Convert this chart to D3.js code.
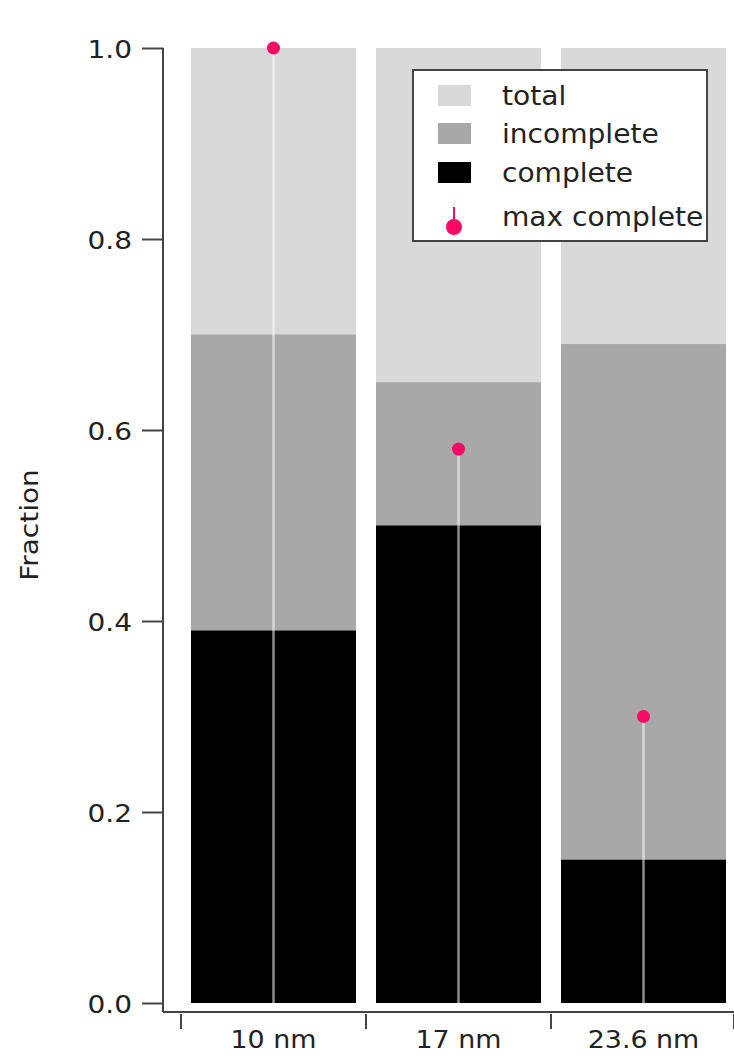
<!DOCTYPE html>
<html><head><meta charset="utf-8">
<script src="https://cdn.jsdelivr.net/npm/d3@7"></script>
<style>body{margin:0;background:#fff}svg{display:block}</style>
</head><body>
<script>
const categories = ["10 nm", "17 nm", "23.6 nm"];
const total = [1.0, 1.0, 1.0];
const incomplete = [0.70, 0.65, 0.69];
const complete = [0.39, 0.50, 0.15];
const maxComplete = [1.0, 0.58, 0.30];
const yTicks = [0.0, 0.2, 0.4, 0.6, 0.8, 1.0];
const legendLabels = ["total", "incomplete", "complete", "max complete"];

const W = 734, H = 1061;
const font = "DejaVu Sans";
const SX = 1.12;
const pink = "#fa0a64";
const svg = d3.select("body").append("svg").attr("width", W).attr("height", H);

const x = d3.scaleBand().domain(categories).range([181, 736]).paddingInner(20/185).paddingOuter(10/185);
const y = d3.scaleLinear().domain([0, 1]).range([1003, 48]);

const g = svg.append("g");
const layers = [
  {vals: total, color: "#d9d9d9"},
  {vals: incomplete, color: "#a8a8a8"},
  {vals: complete, color: "#000000"}
];
layers.forEach(L => {
  g.selectAll(null).data(categories).enter().append("rect")
    .attr("x", d => x(d)).attr("width", x.bandwidth())
    .attr("y", (d, i) => y(L.vals[i])).attr("height", (d, i) => y(0) - y(L.vals[i]))
    .attr("fill", L.color);
});
g.selectAll(null).data(categories).enter().append("line")
  .attr("x1", d => x(d) + x.bandwidth()/2).attr("x2", d => x(d) + x.bandwidth()/2)
  .attr("y1", (d, i) => y(maxComplete[i])).attr("y2", y(0))
  .attr("stroke", "#ffffff").attr("stroke-opacity", 0.55).attr("stroke-width", 2.5);
g.selectAll(null).data(categories).enter().append("circle")
  .attr("cx", d => x(d) + x.bandwidth()/2).attr("cy", (d, i) => y(maxComplete[i]))
  .attr("r", 6.5).attr("fill", pink);

// y axis
const yAxis = d3.axisLeft(y).tickValues(yTicks).tickFormat(d3.format(".1f")).tickSize(21).tickPadding(10);
const ya = svg.append("g").attr("transform", "translate(163,0)").call(yAxis);
ya.select(".domain").remove();
ya.append("line").attr("x1", 0).attr("x2", 0).attr("y1", y(1)).attr("y2", 1012).attr("stroke", "#444").attr("stroke-width", 2);
ya.selectAll(".tick line").attr("stroke", "#444").attr("stroke-width", 2);
ya.selectAll(".tick text").each(function() {
  const t = d3.select(this);
  const tx = +t.attr("x");
  t.attr("x", 0).attr("dy", null).attr("y", 0)
   .attr("transform", `translate(${tx},9) scale(${SX},1)`)
   .attr("font-family", font).attr("font-size", 25).attr("fill", "#222");
});

// x axis
const xa = svg.append("g").attr("transform", "translate(0,1012)");
xa.append("line").attr("x1", 163).attr("x2", 734).attr("y1", 0).attr("y2", 0).attr("stroke", "#444").attr("stroke-width", 2);
const bounds = [181, 366, 551, 734];
xa.selectAll(null).data(bounds).enter().append("line")
  .attr("x1", d => d).attr("x2", d => d).attr("y1", 2).attr("y2", 17)
  .attr("stroke", "#444").attr("stroke-width", 2);
xa.selectAll(null).data(categories).enter().append("text")
  .attr("transform", d => `translate(${x(d) + x.bandwidth()/2},36) scale(${SX},1)`)
  .attr("text-anchor", "middle").attr("font-family", font).attr("font-size", 24).attr("fill", "#222")
  .text(d => d);

// y label
svg.append("text").attr("transform", `translate(38,525) rotate(-90) scale(${SX},1)`)
  .attr("text-anchor", "middle").attr("font-family", font).attr("font-size", 25).attr("fill", "#222")
  .text("Fraction");

// legend
const lg = svg.append("g");
lg.append("rect").attr("x", 413).attr("y", 70).attr("width", 294).attr("height", 171)
  .attr("fill", "#fff").attr("stroke", "#444").attr("stroke-width", 2);
const swColors = ["#d9d9d9", "#a8a8a8", "#000000"];
const rowY = [105, 143, 182, 226];
swColors.forEach((c, i) => {
  lg.append("rect").attr("x", 438).attr("y", rowY[i] - 20).attr("width", 33).attr("height", 21).attr("fill", c);
});
lg.append("line").attr("x1", 454).attr("x2", 454).attr("y1", 207).attr("y2", 222).attr("stroke", pink).attr("stroke-width", 2);
lg.append("circle").attr("cx", 454).attr("cy", 227).attr("r", 8).attr("fill", pink);
lg.selectAll(null).data(legendLabels).enter().append("text")
  .attr("transform", (d, i) => `translate(502,${rowY[i]}) scale(1.08,1)`)
  .attr("font-family", font).attr("font-size", 26).attr("fill", "#222")
  .text(d => d);
</script>
</body></html>
